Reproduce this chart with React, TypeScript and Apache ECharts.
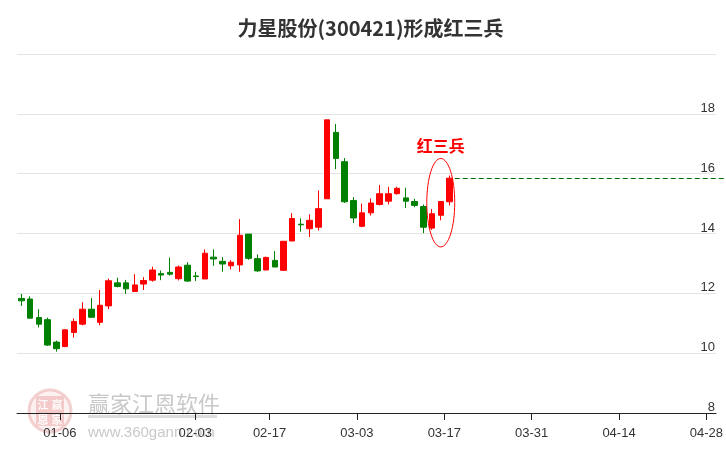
import React, { useEffect, useRef } from "react";
import * as echarts from "echarts";

const TITLE = "力星股份(300421)形成红三兵";
const PATTERN_LABEL = "红三兵";
const WATERMARK_NAME = "赢家江恩软件";
const WATERMARK_URL = "www.360gann.com";
const SEAL_CHARS = ["江", "赢", "恩", "家"];

const tradingDays = [
  "2024-12-30", "2024-12-31", "2025-01-02", "2025-01-03",
  "2025-01-06", "2025-01-07", "2025-01-08", "2025-01-09", "2025-01-10",
  "2025-01-13", "2025-01-14", "2025-01-15", "2025-01-16", "2025-01-17",
  "2025-01-20", "2025-01-21", "2025-01-22", "2025-01-23", "2025-01-24",
  "2025-01-27", "2025-02-05", "2025-02-06", "2025-02-07",
  "2025-02-10", "2025-02-11", "2025-02-12", "2025-02-13", "2025-02-14",
  "2025-02-17", "2025-02-18", "2025-02-19", "2025-02-20", "2025-02-21",
  "2025-02-24", "2025-02-25", "2025-02-26", "2025-02-27", "2025-02-28",
  "2025-03-03", "2025-03-04", "2025-03-05", "2025-03-06", "2025-03-07",
  "2025-03-10", "2025-03-11", "2025-03-12", "2025-03-13", "2025-03-14",
  "2025-03-17", "2025-03-18",
];

const futureDays = [
  "2025-03-19", "2025-03-20", "2025-03-21",
  "2025-03-24", "2025-03-25", "2025-03-26", "2025-03-27", "2025-03-28",
  "2025-03-31", "2025-04-01", "2025-04-02", "2025-04-03", "2025-04-04",
  "2025-04-07", "2025-04-08", "2025-04-09", "2025-04-10", "2025-04-11",
  "2025-04-14", "2025-04-15", "2025-04-16", "2025-04-17", "2025-04-18",
  "2025-04-21", "2025-04-22", "2025-04-23", "2025-04-24", "2025-04-25",
  "2025-04-28", "2025-04-29",
];

const opens = [
  11.83, 11.81, 11.19, 11.12, 10.37, 10.22, 10.69, 10.97, 11.47, 11.03,
  11.58, 12.35, 12.35, 12.06, 12.31, 12.44, 12.66, 12.70, 12.49, 12.94,
  12.58, 12.48, 13.21, 13.07, 12.92, 12.95, 13.98, 13.16, 12.78, 13.10,
  12.77, 13.75, 14.31, 14.16, 14.21, 15.16, 17.38, 16.40, 15.10, 14.24,
  14.69, 14.97, 15.08, 15.33, 15.19, 15.07, 14.90, 14.18, 14.61, 15.06,
];
const closes = [
  11.75, 11.17, 10.97, 10.27, 10.15, 10.78, 11.06, 11.47, 11.20, 11.60,
  12.42, 12.23, 12.15, 12.28, 12.43, 12.78, 12.61, 12.64, 12.88, 12.41,
  12.56, 13.34, 13.15, 12.98, 13.04, 13.94, 13.17, 12.75, 13.20, 12.88,
  13.74, 14.50, 14.29, 14.44, 14.83, 17.80, 16.51, 15.06, 14.52, 14.69,
  15.02, 15.33, 15.33, 15.51, 15.08, 14.94, 14.21, 14.66, 15.07, 15.85,
];
const lows = [
  11.58, 11.17, 10.86, 10.24, 10.05, 10.20, 10.52, 10.93, 11.20, 10.93,
  11.47, 12.20, 11.98, 12.06, 12.11, 12.39, 12.44, 12.59, 12.43, 12.38,
  12.41, 12.48, 12.92, 12.72, 12.80, 12.72, 13.12, 12.72, 12.78, 12.88,
  12.75, 13.75, 14.06, 13.88, 14.10, 15.16, 16.15, 15.02, 14.35, 14.21,
  14.60, 14.94, 14.97, 15.30, 14.85, 14.88, 14.01, 14.12, 14.44, 14.94,
];
const highs = [
  11.98, 11.90, 11.47, 11.19, 10.42, 10.80, 11.16, 11.70, 11.84, 12.11,
  12.49, 12.52, 12.45, 12.64, 12.54, 12.89, 12.76, 13.19, 12.93, 13.04,
  12.72, 13.47, 13.47, 13.21, 13.11, 14.48, 13.98, 13.30, 13.23, 13.41,
  13.74, 14.68, 14.51, 14.64, 15.44, 17.80, 17.66, 16.52, 15.22, 15.00,
  15.17, 15.62, 15.56, 15.56, 15.53, 15.16, 14.97, 14.82, 15.07, 15.94,
];

const tickDates = [
  "2025-01-06", "2025-02-03", "2025-02-17", "2025-03-03",
  "2025-03-17", "2025-03-31", "2025-04-14", "2025-04-28",
];

const Y_MIN = 8;
const Y_MAX = 20;
const Y_STEP = 2;
const PATTERN_LEN = 3;
const TICK_SHIFT = 0.4;

export default function App() {
  const ref = useRef<HTMLDivElement>(null);

  useEffect(() => {
    if (!ref.current) return;
    const chart = echarts.init(ref.current, null, { renderer: "svg" });
    const categories = [...tradingDays, ...futureDays];
    const tickPos: number[] = [];
    const tickText: string[] = [];
    tickDates.forEach((d) => {
      const idx = categories.findIndex((c) => c >= d);
      if (idx < 0) return;
      const p = categories[idx] === d ? idx : idx - 0.5;
      tickPos.push(p + TICK_SHIFT);
      tickText.push(d.slice(5));
    });
    const labelFor = (v: number) => {
      let best = -1;
      let bd = Infinity;
      tickPos.forEach((p, k) => {
        const dd = Math.abs(p - v);
        if (dd < bd) {
          bd = dd;
          best = k;
        }
      });
      return best >= 0 && bd < 0.01 ? tickText[best] : "";
    };
    const data = opens.map((o, i) => [o, closes[i], lows[i], highs[i]]);

    const GRID_LEFT = 17;
    const GRID_RIGHT = 2;
    const axisFont = "Liberation Sans, Arial, sans-serif";

    chart.setOption({
      animation: false,
      grid: { left: GRID_LEFT, right: GRID_RIGHT, top: 54, bottom: 37 },
      xAxis: [
        {
          type: "category",
          data: categories,
          boundaryGap: true,
          position: "bottom",
          axisLine: { onZero: false, lineStyle: { color: "#222", width: 1 } },
          axisTick: { show: false },
          axisLabel: { show: false },
          splitLine: { show: false },
        },
        {
          type: "value",
          position: "bottom",
          min: -0.5,
          max: categories.length - 0.5,
          axisLine: { show: false, onZero: false },
          axisTick: {
            show: true,
            customValues: tickPos,
            length: 7,
            lineStyle: { color: "#222" },
          },
          axisLabel: {
            customValues: tickPos,
            formatter: (v: number) => labelFor(v),
            color: "#333",
            fontSize: 13,
            fontFamily: axisFont,
            margin: 13,
          },
          splitLine: { show: false },
        },
      ],
      yAxis: {
        type: "value",
        position: "right",
        min: Y_MIN,
        max: Y_MAX,
        interval: Y_STEP,
        axisLine: { show: false },
        axisTick: { show: false },
        axisLabel: {
          inside: true,
          showMaxLabel: false,
          verticalAlign: "bottom",
          margin: 1,
          color: "#333",
          fontSize: 13,
          fontFamily: axisFont,
        },
        splitLine: { show: true, lineStyle: { color: "#e4e4e4", width: 1 } },
      },
      series: [
        {
          type: "candlestick",
          xAxisIndex: 0,
          yAxisIndex: 0,
          data,
          barWidth: 6,
          itemStyle: {
            color: "#ff0000",
            color0: "#008000",
            borderColor: "#ff0000",
            borderColor0: "#008000",
            borderWidth: 1,
          },
        },
      ],
    });

    const n = opens.length;
    const last = n - 1;
    const px = (i: number, v: number) =>
      chart.convertToPixel({ xAxisIndex: 0, yAxisIndex: 0 }, [i, v]) as number[];

    const [lx, ly] = px(last, closes[last]);
    const [bx0] = px(0, Y_MIN);
    const [bx1] = px(1, Y_MIN);
    const band = bx1 - bx0;

    const pHigh = Math.max(...highs.slice(n - PATTERN_LEN));
    const pLow = Math.min(...lows.slice(n - PATTERN_LEN));
    const [cx, yHi] = px(n - 2, pHigh);
    const [, yLo] = px(n - 2, pLow);
    const cy = (yHi + yLo) / 2;
    const rx = band * 1.6;
    const ry = (yLo - yHi) / 2 + 17;

    const chartW = chart.getWidth();
    const titleX = (GRID_LEFT + (chartW - GRID_RIGHT)) / 2;
    const dashY = Math.round(ly) + 0.5;

    const sealCx = 50;
    const sealCy = 411;

    chart.setOption({
      graphic: [
        {
          type: "group",
          z: -1,
          silent: true,
          children: [
            {
              type: "circle",
              shape: { cx: sealCx, cy: sealCy, r: 21 },
              style: { fill: "rgba(245,215,215,0.35)", stroke: "rgba(220,130,130,0.35)", lineWidth: 3 },
            },
            {
              type: "rect",
              shape: { x: sealCx - 14, y: sealCy - 15, width: 28, height: 30, r: 2 },
              style: { fill: "rgba(225,130,130,0.35)" },
            },
            ...SEAL_CHARS.map((ch, k) => ({
              type: "text",
              x: sealCx - 7 + (k % 2) * 14,
              y: sealCy - 7.5 + Math.floor(k / 2) * 15,
              style: {
                text: ch,
                fill: "rgba(255,255,255,0.9)",
                fontSize: 11,
                lineHeight: 11,
                fontWeight: "bold",
                fontFamily: "Noto Sans CJK SC",
                align: "center",
                verticalAlign: "middle",
                textAlign: "center",
                textVerticalAlign: "middle",
              },
            })),
            {
              type: "text",
              x: 88,
              y: 402,
              style: {
                text: WATERMARK_NAME,
                fill: "#c9c9c9",
                fontSize: 22,
                fontFamily: "Noto Sans CJK SC",
                align: "left",
                verticalAlign: "middle",
                textAlign: "left",
                textVerticalAlign: "middle",
              },
            },
            {
              type: "rect",
              shape: { x: 88, y: 415, width: 129, height: 3 },
              style: { fill: "#dddddd" },
            },
            {
              type: "text",
              x: 88,
              y: 431,
              style: {
                text: WATERMARK_URL,
                fill: "#c9c9c9",
                fontSize: 15,
                fontFamily: axisFont,
                align: "left",
                verticalAlign: "middle",
                textAlign: "left",
                textVerticalAlign: "middle",
              },
            },
          ],
        },
        {
          type: "text",
          x: titleX,
          y: 27,
          style: {
            text: TITLE,
            fill: "#333",
            fontSize: 20,
            fontWeight: "bold",
            fontFamily: "Noto Sans CJK SC",
            align: "center",
            verticalAlign: "middle",
            textAlign: "center",
            textVerticalAlign: "middle",
          },
        },
        {
          type: "line",
          z: 5,
          shape: { x1: lx + band * 0.6, y1: dashY, x2: chartW, y2: dashY },
          style: { stroke: "#006d00", lineWidth: 1, lineDash: [5, 3] },
        },
        {
          type: "ellipse",
          z: 5,
          shape: { cx, cy, rx, ry },
          style: { fill: "none", stroke: "#ff0000", lineWidth: 1 },
        },
        {
          type: "text",
          z: 5,
          x: cx,
          y: cy - ry - 13,
          style: {
            text: PATTERN_LABEL,
            fill: "#ff0000",
            fontSize: 16,
            fontWeight: "bold",
            fontFamily: "Noto Sans CJK SC",
            align: "center",
            verticalAlign: "middle",
            textAlign: "center",
            textVerticalAlign: "middle",
          },
        },
      ],
    });

    return () => chart.dispose();
  }, []);

  return (
    <div
      ref={ref}
      style={{ position: "fixed", left: 0, top: 0, width: 726, height: 450 }}
    />
  );
}
